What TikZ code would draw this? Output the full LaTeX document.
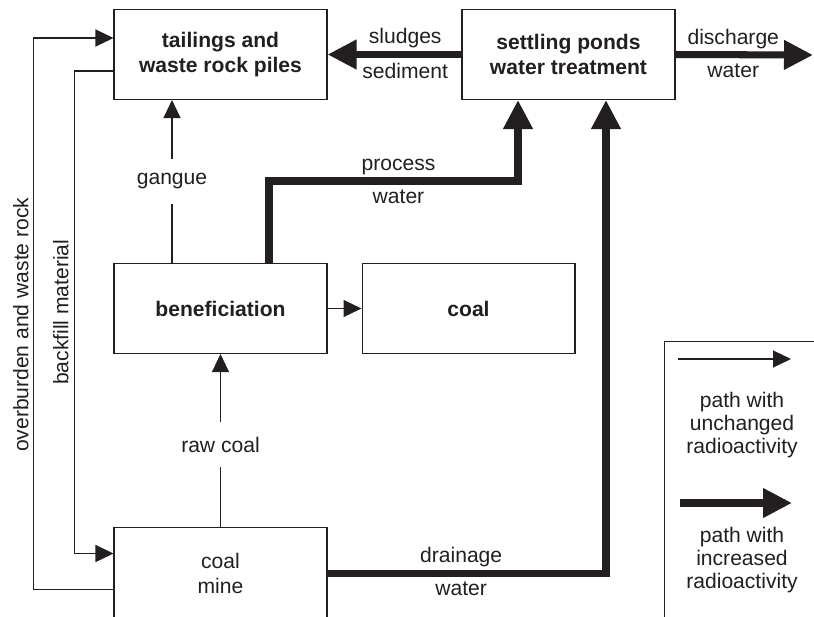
\documentclass[tikz,border=0pt]{standalone}
\usepackage{fontspec}
\setmainfont{Liberation Sans}
\usepackage{tikz}
\usetikzlibrary{arrows.meta}
\usetikzlibrary{positioning}
\definecolor{ink}{RGB}{35,31,32}

\begin{document}
\begin{tikzpicture}[x=0.02cm, y=-0.02cm, color=ink,
  box/.style={draw, line width=.6pt, minimum width=4.26cm, minimum height=1.8cm,
    inner sep=0pt, align=center, font=\fontsize{12}{14}\selectfont},
  bbox/.style={box, font=\fontsize{12}{14}\selectfont\bfseries},
  flow/.style={line width=.6pt, -{Triangle[length=.36cm,width=.34cm]}},
  flowback/.style={line width=.6pt, {Triangle[length=.36cm,width=.34cm]}-},
  heavy/.style={line width=4pt, -{Triangle[length=.58cm,width=.56cm]}},
  lbl/.style={inner sep=0pt, outer sep=0pt, font=\fontsize{12}{14}\selectfont},
  gap/.style={lbl, minimum height=.9cm},
  keytext/.style={lbl, align=center, font=\fontsize{12}{13}\selectfont}]
\useasboundingbox (0,0) rectangle (814,616);
\clip (0,0) rectangle (814,616);

\node[bbox] (tail) at (220.5,54.5) {tailings and\\waste rock piles};
\node[bbox, right=2.68cm of tail] (settle) {settling ponds\\water treatment};
\node[bbox, below=3.26cm of tail] (ben) {beneficiation};
\node[bbox, right=.68cm of ben] (coal) {coal};
\node[box, below=3.46cm of ben, minimum height=1.84cm] (mine) {coal\\mine};

\node[draw, line width=.6pt, minimum width=3.52cm, minimum height=5.98cm,
  anchor=north west] (key) at (664,341) {};
\coordinate (k1a) at (678,359);
\coordinate (k1b) at (791,359);
\draw[flow] (k1a) -- (k1b);
\node[keytext] (k1t) at (742,425) {path with\\unchanged\\radioactivity};
\coordinate (k2a) at (680,503);
\coordinate (k2b) at (792,503);
\draw[heavy] (k2a) -- (k2b);
\node[keytext] (k2t) at (742,560) {path with\\increased\\radioactivity};

\draw[heavy] (settle.west) -- node[lbl, pos=.42, above=3.5pt] {sludges}
  node[lbl, pos=.42, below=5pt] {sediment} (tail.east);
\coordinate (dis) at (813,55);
\draw[heavy] (settle.east) -- node[lbl, pos=.42, above=3.5pt] {discharge}
  node[lbl, pos=.42, below=5pt] {water} (dis);

\coordinate (pwin) at ([xshift=-1.01cm]settle.south);
\draw[heavy] ([xshift=.97cm]ben.north) -- ++(0,-82) coordinate (pwbend)
  -- node[lbl, pos=.52, above=3.5pt] {process}
  node[lbl, pos=.52, below=5pt] {water} (pwbend -| pwin) -- (pwin);

\coordinate (drin) at ([xshift=.75cm]settle.south);
\draw[heavy] (mine.east) -| node[lbl, pos=.24, above=3.5pt] {drainage}
  node[lbl, pos=.24, below=5pt] {water} (drin);

\node[gap] (gng) at (172,181) {gangue};
\draw[line width=.6pt] (ben.north -| gng) -- (gng.south);
\draw[flow] (gng.north) -- (tail.south -| gng);

\node[gap] (raw) at (220.5,444.5) {raw coal};
\draw[line width=.6pt] (mine.north) -- (raw.south);
\draw[flow] (raw.north) -- (ben.south);

\draw[flow] (ben.east) -- (coal.west);

\draw[flow] ([yshift=-.32cm]mine.west) -- ++(-80,0)
  |- node[lbl, pos=.24, sloped, above=2.8pt] {overburden and waste rock}
  ([yshift=.33cm]tail.west);
\draw[flowback] ([yshift=.4cm]mine.west) -- ++(-39,0)
  |- node[lbl, pos=.25, sloped, above=3.4pt] {backfill material}
  ([yshift=-.33cm]tail.west);
\end{tikzpicture}
\end{document}
